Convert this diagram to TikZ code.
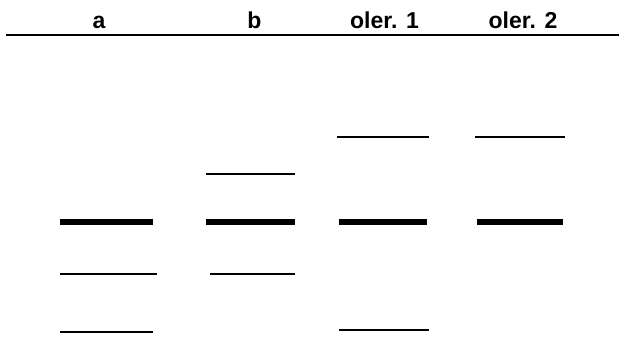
\documentclass[tikz,border=0pt]{standalone}
\usepackage{fontspec}
\setmainfont{Liberation Sans}
\begin{document}
\begin{tikzpicture}[x=1pt,y=-1pt,
  lanelabel/.style={anchor=base,inner sep=0pt,font=\fontsize{23}{26}\selectfont\bfseries},
  thinband/.style={line width=1.6pt,black},
  thickband/.style={line width=6pt,black},
  rule/.style={line width=2.8pt,black}]
\useasboundingbox (0,0) rectangle (619,340);
% header labels
\node[lanelabel] (la) at (99,28) {a};
\node[lanelabel] (lb) at (254.5,28) {b};
\node[lanelabel] (lo1) at (384.5,28) {oler. 1};
\node[lanelabel] (lo2) at (523,28) {oler. 2};
\draw[rule] (6,35) -- (619,35);
% lane a
\draw[thickband] (60,222) -- (153,222);
\draw[thinband] (60,274) -- (157,274);
\draw[thinband] (60,332) -- (153,332);
% lane b
\draw[thinband] (206,174) -- (295,174);
\draw[thickband] (206,222) -- (295,222);
\draw[thinband] (210,274) -- (295,274);
% lane oler. 1
\draw[thinband] (337,137) -- (429,137);
\draw[thickband] (339,222) -- (427,222);
\draw[thinband] (339,330) -- (429,330);
% lane oler. 2
\draw[thinband] (475,137) -- (565,137);
\draw[thickband] (477,222) -- (563,222);
\end{tikzpicture}
\end{document}
